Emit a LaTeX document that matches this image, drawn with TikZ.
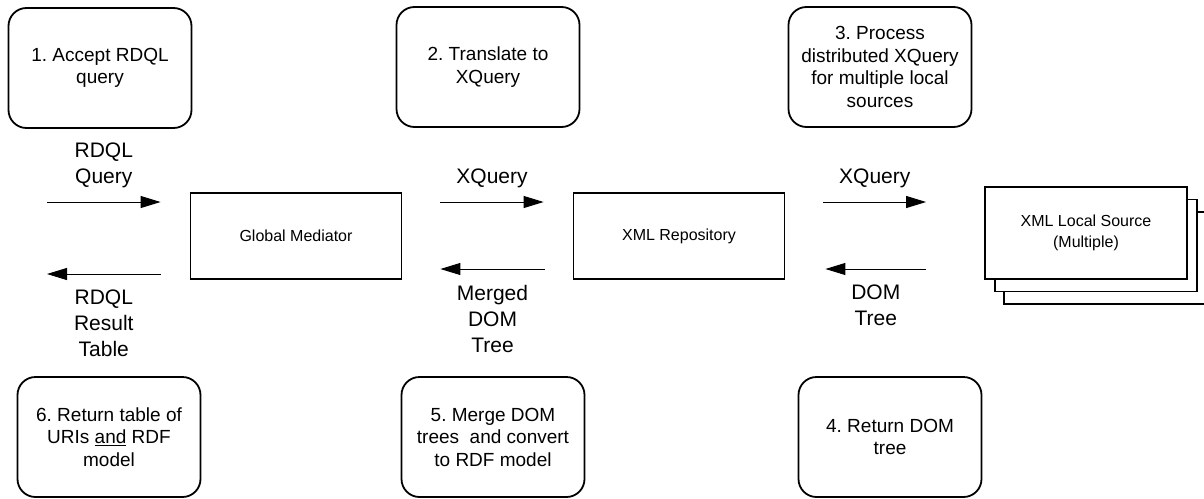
\documentclass[tikz,border=0pt]{standalone}
\usepackage{fontspec}
\setmainfont{Liberation Sans}
\usetikzlibrary{arrows.meta,positioning,shadows}
\frenchspacing

\begin{document}
\begin{tikzpicture}[
  x=1pt, y=-1pt,
  stepbox/.style={rectangle, draw, rounded corners=18pt, line width=1.8pt, minimum width=183pt, minimum height=120pt, align=center, font=\fontsize{19}{22.5}\selectfont},
  block/.style={rectangle, draw, fill=white, line width=1.8pt, minimum width=211pt, minimum height=86pt, align=center, font=\fontsize{16}{21}\selectfont},
  srcbox/.style={block, minimum width=202pt, minimum height=92pt},
  flow/.style={-{Triangle[length=20pt,width=12pt]}, line width=1pt},
  lbl/.style={align=center, font=\fontsize{21}{26}\selectfont},
  node distance=383pt
]
\useasboundingbox (0,0) rectangle (1204,498);

% steps
\node[stepbox] (s1) at (100,68) {1. Accept RDQL\\query};
\node[stepbox] (s2) at (488,67) {2. Translate to\\XQuery};
\node[stepbox] (s3) at (880,67) {3. Process\\distributed XQuery\\for multiple local\\sources};
\node[stepbox] (s4) at (890,437) {4. Return DOM\\tree};
\node[stepbox] (s5) at (493,437) {5. Merge DOM\\trees~ and convert\\to RDF model};
\node[stepbox] (s6) at (109,437) {6. Return table of\\URIs \underline{and} RDF\\model};

% components
\node[block] (gm) at (296,236) {Global Mediator};
\node[block, right of=gm] (xr) {XML Repository};
\node[srcbox, right of=xr, node distance=407pt, yshift=3pt,
  copy shadow={shadow xshift=19pt, shadow yshift=-25pt},
  copy shadow={shadow xshift=10pt, shadow yshift=-12.5pt}] (src) {XML Local Source\\(Multiple)};

\coordinate (q0) at (47,202);
\coordinate (r0) at (47,274);

\draw[flow] (q0) -- ([xshift=-29pt, yshift=34pt]gm.west) node[lbl, midway, above=10pt] {RDQL\\Query};
\draw[flow] ([xshift=-29pt, yshift=-38pt]gm.west) -- (r0) node[lbl, midway, below=12pt] {RDQL\\Result\\Table};
\draw[flow] ([xshift=38pt, yshift=34pt]gm.east) -- ([xshift=-29pt, yshift=34pt]xr.west) node[lbl, midway, above=10pt] {XQuery};
\draw[flow] ([xshift=-28pt, yshift=-33pt]xr.west) -- ([xshift=38pt, yshift=-33pt]gm.east) node[lbl, midway, below=12pt] {Merged\\DOM\\Tree};
\draw[flow] ([xshift=38pt, yshift=34pt]xr.east) -- ([xshift=-58pt, yshift=31pt]src.west) node[lbl, midway, above=10pt] {XQuery};
\draw[flow] ([xshift=-58pt, yshift=-36pt]src.west) -- ([xshift=40pt, yshift=-33pt]xr.east) node[lbl, midway, below=12pt] {DOM\\Tree};
\end{tikzpicture}
\end{document}
